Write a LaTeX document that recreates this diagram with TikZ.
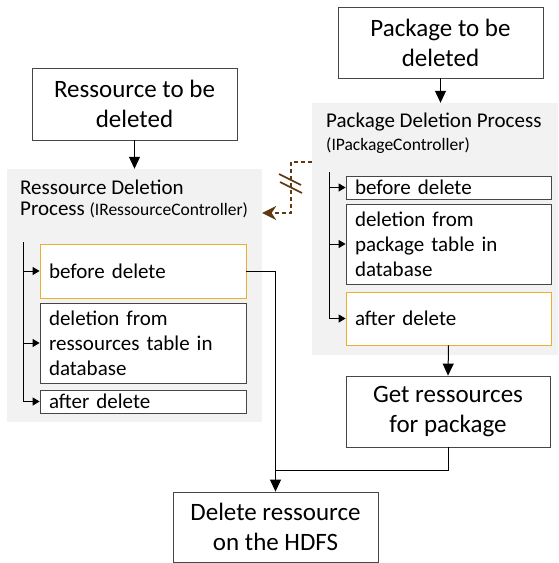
\documentclass[tikz,border=0pt]{standalone}
\usepackage{fontspec}
\setmainfont{Carlito}
\usepackage{tikz}
\usetikzlibrary{arrows.meta}

\definecolor{boxline}{RGB}{70,70,70}
\definecolor{procfill}{RGB}{242,242,242}
\definecolor{hookline}{RGB}{232,176,48}
\definecolor{depbrown}{RGB}{96,56,20}

\begin{document}
\begin{tikzpicture}[x=1pt,y=-1pt,
    flowbox/.style={draw=boxline,line width=0.8pt,fill=white,align=center,inner sep=0pt,
      font=\fontsize{25}{30}\selectfont,minimum width=205pt},
    procbox/.style={fill=procfill,inner sep=0pt},
    proctitle/.style={anchor=base west,align=left,inner sep=0pt,
      font=\fontsize{21}{23}\selectfont},
    ctrl/.style={font=\fontsize{17.5}{19}\selectfont},
    stepbox/.style={draw=boxline,line width=0.8pt,fill=white,align=left,inner xsep=9pt,
      inner ysep=0pt,font=\fontsize{21}{25}\selectfont},
    hookbox/.style={stepbox,draw=hookline},
    flow/.style={line width=1pt,-{Triangle[length=12pt,width=11pt]}},
    branch/.style={line width=1pt,-{Triangle[length=7pt,width=8pt]}},
    dep/.style={depbrown,line width=1.6pt,dash pattern=on 4pt off 3pt,
      -{Stealth[length=14pt,width=14pt]}}]
  \useasboundingbox (0,0) rectangle (558,563);

  % process areas
  \node[procbox,minimum width=255pt,minimum height=253pt] (rgrp) at (134.5,295.5) {};
  \node[procbox,minimum width=246pt,minimum height=252pt] (pgrp) at (435,229) {};
  \node[proctitle] (rtitle) at (20,215)
    {Ressource Deletion\\[-2pt]Process {\fontsize{17.5}{19}\selectfont(IRessourceController)}};
  \node[proctitle] (ptitle) at (326,150)
    {Package Deletion Process\\{\fontsize{17.5}{19}\selectfont(IPackageController)}};

  % inputs and outputs
  \node[flowbox,minimum height=72pt] (res) at (134.5,104) {Ressource to be\\deleted};
  \node[flowbox,minimum height=71pt] (pkg) at (440.5,42.5) {Package to be\\deleted};
  \node[flowbox,minimum width=204pt,minimum height=71pt] (getres) at (448,411.5)
    {Get ressources\\for package};
  \node[flowbox,minimum height=70pt] (del) at (275.5,527) {Delete ressource\\on the HDFS};

  % steps of the ressource deletion
  \node[hookbox,text width=188pt,minimum height=54pt] (rb1) at (143,271) {before delete};
  \node[stepbox,text width=188pt,minimum height=80pt] (rb2) at (143,343)
    {deletion from\\ressources table in\\database};
  \node[stepbox,text width=188pt,minimum height=23pt] (rb3) at (143,401.5) {after delete};

  % steps of the package deletion
  \node[stepbox,text width=187pt,minimum height=23pt] (pb1) at (448.5,187.5) {before delete};
  \node[stepbox,text width=187pt,minimum height=80pt] (pb2) at (448.5,244)
    {deletion from\\package table in\\database};
  \node[hookbox,text width=187pt,minimum height=53pt] (pb3) at (448.5,318.5) {after delete};

  \coordinate (rtop) at (23,242);
  \coordinate (ptop) at (329,172);
  \coordinate (merge) at (275.5,470);
  \coordinate (dbend) at (291,162);

  \foreach \s in {rb1,rb2,rb3} \draw[branch] (rtop) |- (\s.west);
  \foreach \s in {pb1,pb2,pb3} \draw[branch] (ptop) |- (\s.west);

  \draw[flow] (res.south) -- (res.south |- rgrp.north);
  \draw[flow] (pkg.south) -- (pkg.south |- pgrp.north);
  \draw[flow] (pb3.south) -- (getres.north);
  \draw[line width=1pt] (rb1.east) -| (merge);
  \draw[line width=1pt] (getres.south) |- (merge);
  \draw[flow] (merge) -- (del.north);

  % call into the ressource deletion
  \draw[dep] (pgrp.west |- dbend) -- (dbend) |- (rgrp.east |- 0,213);
  \draw[depbrown,line width=1.6pt] (279,174) -- (301,185) (280,182) -- (302,193);
\end{tikzpicture}
\end{document}
